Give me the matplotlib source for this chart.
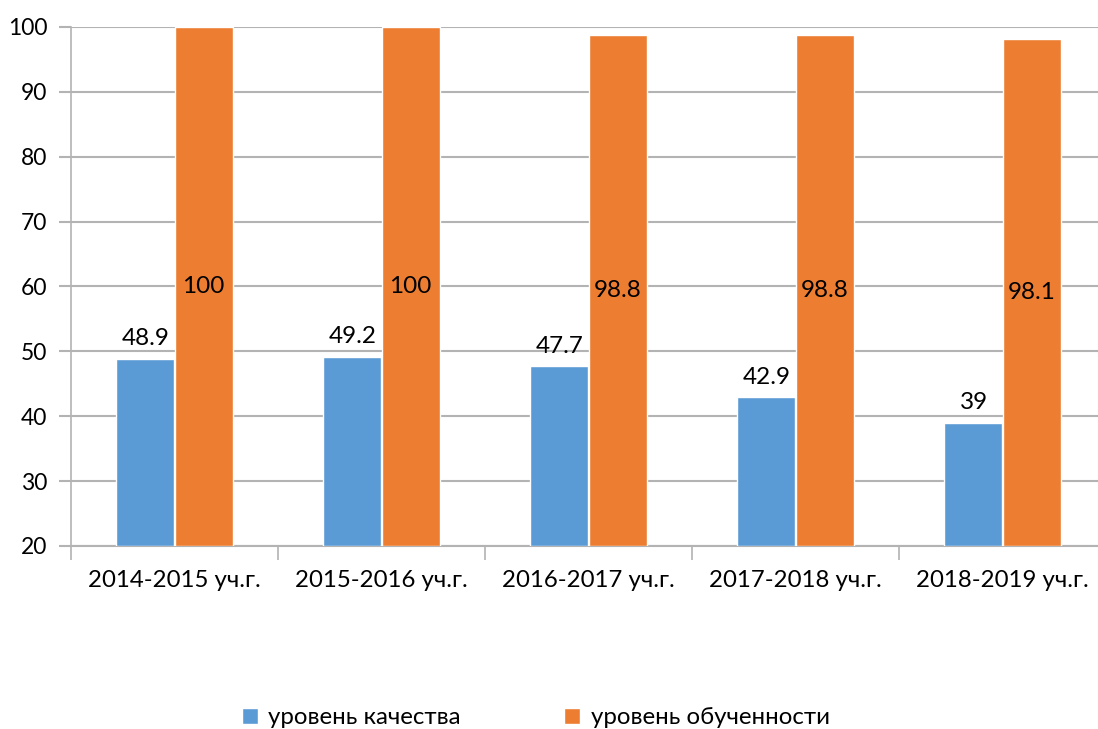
import numpy as np
import matplotlib.pyplot as plt

plt.rcParams['font.family'] = ['Lato', 'DejaVu Sans']

# data
years = ['2014-2015 уч.г.', '2015-2016 уч.г.', '2016-2017 уч.г.',
         '2017-2018 уч.г.', '2018-2019 уч.г.']
quality = [48.9, 49.2, 47.7, 42.9, 39]
learning = [100, 100, 98.8, 98.8, 98.1]
names = ['уровень качества', 'уровень обученности']

blue = '#5B9BD5'
orange = '#ED7D31'
grid_c = '#B3B3B3'

fig = plt.figure(figsize=(10.98, 7.29), dpi=100)
ax = fig.add_axes([71 / 1098, 1 - 546 / 729, 5 * 207 / 1098, 519 / 729])

x = np.arange(len(years))
w = 0.28
b1 = ax.bar(x - w / 2 - 0.003, np.array(quality) - 20, w, bottom=20, color=blue,
            edgecolor='white', linewidth=1, label=names[0], zorder=3)
b2 = ax.bar(x + w / 2 + 0.003, np.array(learning) - 20, w, bottom=20, color=orange,
            edgecolor='white', linewidth=1, label=names[1], zorder=3)

for xi, v in zip(x, quality):
    ax.text(xi - w / 2, v + 1.5, f'{v:g}', ha='center', va='bottom', fontsize=17.5)
for xi, v in zip(x, learning):
    ax.text(xi + w / 2, (20 + v) / 2, f'{v:g}', ha='center', va='center', fontsize=17.5)

ax.set_xlim(-0.5, len(years) - 0.5)
ax.set_ylim(20, 100)
ax.set_yticks(range(20, 101, 10))
ax.yaxis.grid(True, color=grid_c, linewidth=1.5, zorder=0)
ax.set_axisbelow(True)

ax.set_xticks(x)
ax.set_xticklabels(years, fontsize=17.3)
ax.set_xticks(np.arange(-0.5, len(years), 1), minor=True)
ax.tick_params(axis='x', which='major', length=0, pad=17)
ax.tick_params(axis='x', which='minor', length=10, width=1.2, color=grid_c)
ax.tick_params(axis='y', length=9, width=1.5, color=grid_c, labelsize=16.5, pad=8)

for s in ['top', 'right']:
    ax.spines[s].set_visible(False)
ax.spines['left'].set_color(grid_c)
ax.spines['left'].set_linewidth(1.2)
ax.spines['bottom'].set_color(grid_c)
ax.spines['bottom'].set_linewidth(1.5)

fig.legend(handles=[b1, b2], labels=names, loc='center',
           bbox_to_anchor=(0.488, 1 - 718 / 729), ncol=2, frameon=False,
           fontsize=17.3, handlelength=0.65, handleheight=0.65,
           handletextpad=0.45, columnspacing=4.3)

fig.savefig('out.png', dpi=100)
